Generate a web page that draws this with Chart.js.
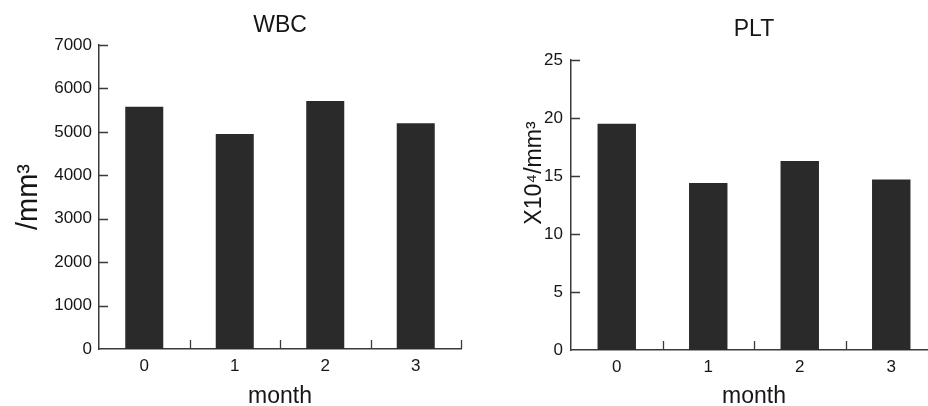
<!DOCTYPE html>
<html>
<head>
<meta charset="utf-8">
<script src="https://cdn.jsdelivr.net/npm/chart.js@4"></script>
<style>
  body { margin: 0; background: #fff; }
  #wrap { position: relative; width: 928px; height: 406px; overflow: hidden; background: #fff; }
  #wbc { position: absolute; left: 0; top: 0; }
  #plt { position: absolute; left: 464px; top: 0; }
</style>
</head>
<body>
<div id="wrap">
  <canvas id="wbc" width="464" height="406"></canvas>
  <canvas id="plt" width="480" height="406"></canvas>
</div>
<script>
// data
const months = ['0', '1', '2', '3'];
const wbcValues = [5580, 4950, 5710, 5200];
const pltValues = [19.5, 14.4, 16.3, 14.7];
const wbcTicks = [0, 1000, 2000, 3000, 4000, 5000, 6000, 7000];
const pltTicks = [0, 5, 10, 15, 20, 25];

const ink = '#161616';
const axisColor = '#3a3a3a';
const barColor = '#2a2a2a';
const family = "'Liberation Sans', Arial, Helvetica, sans-serif";

// ticks of this figure point into the plot, Chart.js draws them outside, so draw them here
const inwardTicks = {
  id: 'inwardTicks',
  afterDatasetsDraw(chart) {
    const { ctx, chartArea: a, scales: { x, y } } = chart;
    ctx.save();
    ctx.strokeStyle = axisColor;
    ctx.lineWidth = 1.3;
    ctx.beginPath();
    y.ticks.forEach(t => {
      if (t.value === y.min) return;
      const py = Math.round(y.getPixelForValue(t.value)) + 0.5;
      ctx.moveTo(a.left, py);
      ctx.lineTo(a.left + 9, py);
    });
    const half = (x.getPixelForValue(1) - x.getPixelForValue(0)) / 2;
    x.ticks.forEach((t, i) => {
      const px = Math.round(x.getPixelForValue(i) + half) + 0.5;
      ctx.moveTo(px, a.bottom);
      ctx.lineTo(px, a.bottom - 9);
    });
    ctx.stroke();
    ctx.restore();
  }
};

function makeChart(id, opts) {
  const ctx = document.getElementById(id).getContext('2d');
  return new Chart(ctx, {
    type: 'bar',
    data: {
      labels: months,
      datasets: [{
        data: opts.values,
        backgroundColor: barColor,
        borderWidth: 0,
        categoryPercentage: 1,
        barPercentage: 0.42
      }]
    },
    options: {
      responsive: false,
      animation: false,
      layout: { padding: { left: 0, right: opts.padRight, top: 0, bottom: 0 } },
      plugins: {
        legend: { display: false },
        tooltip: { enabled: false },
        title: {
          display: true,
          text: opts.title,
          fullSize: false,
          color: ink,
          font: { family: family, size: 23, weight: 'normal', lineHeight: 1.2 },
          padding: opts.titlePad
        }
      },
      scales: {
        x: {
          offset: true,
          grid: { display: false, drawTicks: false },
          border: { display: true, color: axisColor, width: 1.5 },
          ticks: { color: ink, padding: 7, font: { family: family, size: 17 } },
          title: {
            display: true,
            text: 'month',
            color: ink,
            font: { family: family, size: 23, lineHeight: 0.8 },
            padding: { top: 0, bottom: 0 }
          },
          afterFit(scale) { scale.height = opts.xHeight; }
        },
        y: {
          min: 0,
          max: opts.ticks[opts.ticks.length - 1],
          afterBuildTicks(scale) { scale.ticks = opts.ticks.map(v => ({ value: v })); },
          grid: { display: false, drawTicks: false },
          border: { display: true, color: axisColor, width: 1.5 },
          ticks: {
            color: ink,
            padding: opts.labelGap,
            font: { family: family, size: 17 },
            callback: v => String(v)
          },
          title: {
            display: true,
            text: opts.yTitle,
            color: ink,
            font: { family: family, size: opts.yTitleSize, lineHeight: 1 },
            padding: { top: opts.yTitleOffset, bottom: 0 }
          },
          afterFit(scale) { scale.width = opts.yWidth; }
        }
      }
    },
    plugins: [inwardTicks]
  });
}

makeChart('wbc', {
  title: 'WBC',
  values: wbcValues,
  ticks: wbcTicks,
  yTitle: '/mm³',
  yTitleSize: 29,
  yTitleOffset: 14,
  yWidth: 99,
  xHeight: 57,
  labelGap: 7,
  padRight: 3,
  titlePad: { top: 11.5, bottom: 5.9 }
});

makeChart('plt', {
  title: 'PLT',
  values: pltValues,
  ticks: pltTicks,
  yTitle: '          X10⁴/mm³',
  yTitleSize: 23,
  yTitleOffset: 59,
  yWidth: 107,
  xHeight: 56,
  labelGap: 8,
  padRight: 7,
  titlePad: { top: 15.5, bottom: 16.9 }
});
</script>
</body>
</html>
